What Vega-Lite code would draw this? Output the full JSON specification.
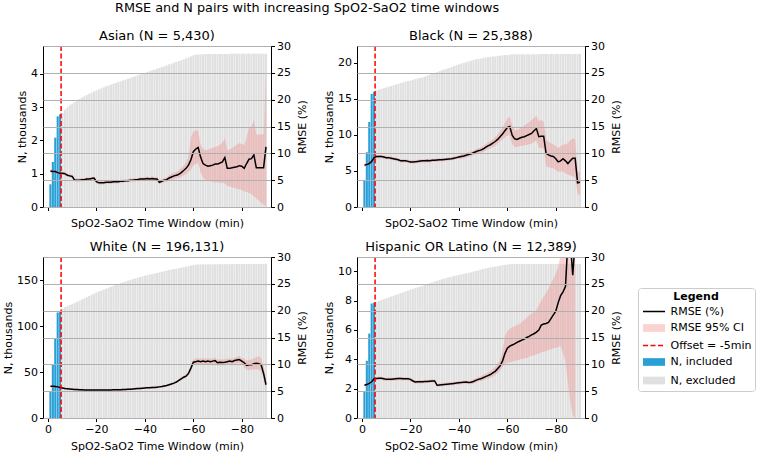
{
"$schema": "https://vega.github.io/schema/vega-lite/v6.json",
"padding": {"left": 2, "top": 1, "right": 1, "bottom": 1},
"title": {"text": "RMSE and N pairs with increasing SpO2-SaO2 time windows", "fontSize": 12.8, "fontWeight": "normal", "font": "DejaVu Sans", "anchor": "start", "frame": "group", "dx": 72, "offset": 15, "color": "black"},
"datasets": {
"off": [{"offset_min": 5.4}],
"d": [
{"g":"Asian","t":1,"n":0.68,"r":6.7,"lo":6.3,"hi":7.1,"s":"N, included"},
{"g":"Asian","t":2,"n":1.35,"r":6.6,"lo":6.3,"hi":6.9,"s":"N, included"},
{"g":"Asian","t":3,"n":2.08,"r":6.6,"lo":6.3,"hi":6.9,"s":"N, included"},
{"g":"Asian","t":4,"n":2.72,"r":6.4,"lo":6.1,"hi":6.7,"s":"N, included"},
{"g":"Asian","t":5,"n":2.78,"r":6.3,"lo":6.0,"hi":6.6,"s":"N, included"},
{"g":"Asian","t":6,"n":2.82,"r":6.3,"lo":6.0,"hi":6.6,"s":"N, excluded"},
{"g":"Asian","t":7,"n":2.92,"r":6.2,"lo":5.9,"hi":6.5,"s":"N, excluded"},
{"g":"Asian","t":8,"n":2.99,"r":5.9,"lo":5.6,"hi":6.2,"s":"N, excluded"},
{"g":"Asian","t":9,"n":3.05,"r":5.8,"lo":5.5,"hi":6.1,"s":"N, excluded"},
{"g":"Asian","t":10,"n":3.10,"r":5.7,"lo":5.4,"hi":6.0,"s":"N, excluded"},
{"g":"Asian","t":11,"n":3.15,"r":5.0,"lo":4.7,"hi":5.3,"s":"N, excluded"},
{"g":"Asian","t":12,"n":3.19,"r":5.0,"lo":4.7,"hi":5.3,"s":"N, excluded"},
{"g":"Asian","t":13,"n":3.24,"r":5.0,"lo":4.7,"hi":5.3,"s":"N, excluded"},
{"g":"Asian","t":14,"n":3.28,"r":5.1,"lo":4.8,"hi":5.4,"s":"N, excluded"},
{"g":"Asian","t":15,"n":3.32,"r":5.1,"lo":4.8,"hi":5.4,"s":"N, excluded"},
{"g":"Asian","t":16,"n":3.36,"r":5.2,"lo":4.9,"hi":5.5,"s":"N, excluded"},
{"g":"Asian","t":17,"n":3.40,"r":5.2,"lo":4.9,"hi":5.5,"s":"N, excluded"},
{"g":"Asian","t":18,"n":3.43,"r":5.3,"lo":5.0,"hi":5.6,"s":"N, excluded"},
{"g":"Asian","t":19,"n":3.47,"r":5.4,"lo":5.1,"hi":5.7,"s":"N, excluded"},
{"g":"Asian","t":20,"n":3.50,"r":4.7,"lo":4.4,"hi":5.0,"s":"N, excluded"},
{"g":"Asian","t":21,"n":3.53,"r":4.5,"lo":4.2,"hi":4.8,"s":"N, excluded"},
{"g":"Asian","t":22,"n":3.56,"r":4.5,"lo":4.2,"hi":4.8,"s":"N, excluded"},
{"g":"Asian","t":23,"n":3.59,"r":4.5,"lo":4.2,"hi":4.8,"s":"N, excluded"},
{"g":"Asian","t":24,"n":3.62,"r":4.6,"lo":4.3,"hi":4.9,"s":"N, excluded"},
{"g":"Asian","t":25,"n":3.64,"r":4.6,"lo":4.3,"hi":4.9,"s":"N, excluded"},
{"g":"Asian","t":26,"n":3.67,"r":4.6,"lo":4.3,"hi":4.9,"s":"N, excluded"},
{"g":"Asian","t":27,"n":3.70,"r":4.7,"lo":4.4,"hi":5.0,"s":"N, excluded"},
{"g":"Asian","t":28,"n":3.72,"r":4.7,"lo":4.4,"hi":5.0,"s":"N, excluded"},
{"g":"Asian","t":29,"n":3.75,"r":4.7,"lo":4.4,"hi":5.0,"s":"N, excluded"},
{"g":"Asian","t":30,"n":3.77,"r":4.8,"lo":4.5,"hi":5.1,"s":"N, excluded"},
{"g":"Asian","t":31,"n":3.80,"r":4.8,"lo":4.5,"hi":5.1,"s":"N, excluded"},
{"g":"Asian","t":32,"n":3.82,"r":4.9,"lo":4.6,"hi":5.2,"s":"N, excluded"},
{"g":"Asian","t":33,"n":3.85,"r":4.9,"lo":4.6,"hi":5.2,"s":"N, excluded"},
{"g":"Asian","t":34,"n":3.87,"r":5.0,"lo":4.7,"hi":5.3,"s":"N, excluded"},
{"g":"Asian","t":35,"n":3.90,"r":5.0,"lo":4.7,"hi":5.3,"s":"N, excluded"},
{"g":"Asian","t":36,"n":3.92,"r":5.1,"lo":4.8,"hi":5.4,"s":"N, excluded"},
{"g":"Asian","t":37,"n":3.95,"r":5.1,"lo":4.8,"hi":5.4,"s":"N, excluded"},
{"g":"Asian","t":38,"n":3.97,"r":5.2,"lo":4.9,"hi":5.5,"s":"N, excluded"},
{"g":"Asian","t":39,"n":4.00,"r":5.2,"lo":4.9,"hi":5.5,"s":"N, excluded"},
{"g":"Asian","t":40,"n":4.02,"r":5.2,"lo":4.9,"hi":5.6,"s":"N, excluded"},
{"g":"Asian","t":41,"n":4.05,"r":5.3,"lo":5.0,"hi":5.7,"s":"N, excluded"},
{"g":"Asian","t":42,"n":4.07,"r":5.2,"lo":4.9,"hi":5.6,"s":"N, excluded"},
{"g":"Asian","t":43,"n":4.10,"r":5.3,"lo":5.0,"hi":5.7,"s":"N, excluded"},
{"g":"Asian","t":44,"n":4.12,"r":5.2,"lo":4.9,"hi":5.6,"s":"N, excluded"},
{"g":"Asian","t":45,"n":4.15,"r":5.2,"lo":4.9,"hi":5.6,"s":"N, excluded"},
{"g":"Asian","t":46,"n":4.17,"r":4.6,"lo":4.3,"hi":5.0,"s":"N, excluded"},
{"g":"Asian","t":47,"n":4.20,"r":4.8,"lo":4.5,"hi":5.2,"s":"N, excluded"},
{"g":"Asian","t":48,"n":4.22,"r":5.0,"lo":4.6,"hi":5.4,"s":"N, excluded"},
{"g":"Asian","t":49,"n":4.25,"r":5.1,"lo":4.7,"hi":5.5,"s":"N, excluded"},
{"g":"Asian","t":50,"n":4.28,"r":5.4,"lo":4.9,"hi":5.9,"s":"N, excluded"},
{"g":"Asian","t":51,"n":4.30,"r":5.6,"lo":5.0,"hi":6.2,"s":"N, excluded"},
{"g":"Asian","t":52,"n":4.33,"r":5.8,"lo":5.2,"hi":6.4,"s":"N, excluded"},
{"g":"Asian","t":53,"n":4.35,"r":5.9,"lo":5.3,"hi":6.5,"s":"N, excluded"},
{"g":"Asian","t":54,"n":4.38,"r":6.1,"lo":5.4,"hi":6.8,"s":"N, excluded"},
{"g":"Asian","t":55,"n":4.40,"r":6.4,"lo":5.6,"hi":7.2,"s":"N, excluded"},
{"g":"Asian","t":56,"n":4.43,"r":6.8,"lo":5.9,"hi":7.7,"s":"N, excluded"},
{"g":"Asian","t":57,"n":4.46,"r":7.2,"lo":6.1,"hi":8.3,"s":"N, excluded"},
{"g":"Asian","t":58,"n":4.49,"r":7.8,"lo":6.5,"hi":9.5,"s":"N, excluded"},
{"g":"Asian","t":59,"n":4.52,"r":8.8,"lo":7.0,"hi":13.0,"s":"N, excluded"},
{"g":"Asian","t":60,"n":4.55,"r":10.3,"lo":7.8,"hi":14.0,"s":"N, excluded"},
{"g":"Asian","t":61,"n":4.57,"r":10.8,"lo":8.0,"hi":14.3,"s":"N, excluded"},
{"g":"Asian","t":62,"n":4.58,"r":11.1,"lo":8.2,"hi":14.2,"s":"N, excluded"},
{"g":"Asian","t":63,"n":4.58,"r":9.3,"lo":6.5,"hi":11.5,"s":"N, excluded"},
{"g":"Asian","t":64,"n":4.58,"r":8.1,"lo":5.5,"hi":10.8,"s":"N, excluded"},
{"g":"Asian","t":65,"n":4.59,"r":7.8,"lo":5.1,"hi":10.6,"s":"N, excluded"},
{"g":"Asian","t":66,"n":4.59,"r":7.6,"lo":4.9,"hi":10.6,"s":"N, excluded"},
{"g":"Asian","t":67,"n":4.59,"r":7.7,"lo":4.8,"hi":10.9,"s":"N, excluded"},
{"g":"Asian","t":68,"n":4.59,"r":7.8,"lo":4.7,"hi":11.0,"s":"N, excluded"},
{"g":"Asian","t":69,"n":4.59,"r":8.0,"lo":4.6,"hi":11.2,"s":"N, excluded"},
{"g":"Asian","t":70,"n":4.59,"r":8.0,"lo":4.6,"hi":11.3,"s":"N, excluded"},
{"g":"Asian","t":71,"n":4.59,"r":8.2,"lo":4.5,"hi":11.6,"s":"N, excluded"},
{"g":"Asian","t":72,"n":4.59,"r":8.4,"lo":4.5,"hi":12.0,"s":"N, excluded"},
{"g":"Asian","t":73,"n":4.59,"r":9.2,"lo":4.4,"hi":12.8,"s":"N, excluded"},
{"g":"Asian","t":74,"n":4.59,"r":7.2,"lo":3.9,"hi":10.6,"s":"N, excluded"},
{"g":"Asian","t":75,"n":4.60,"r":7.2,"lo":3.8,"hi":10.7,"s":"N, excluded"},
{"g":"Asian","t":76,"n":4.60,"r":7.3,"lo":3.7,"hi":11.0,"s":"N, excluded"},
{"g":"Asian","t":77,"n":4.60,"r":7.4,"lo":3.5,"hi":11.3,"s":"N, excluded"},
{"g":"Asian","t":78,"n":4.60,"r":7.5,"lo":3.4,"hi":11.6,"s":"N, excluded"},
{"g":"Asian","t":79,"n":4.60,"r":7.7,"lo":3.3,"hi":11.9,"s":"N, excluded"},
{"g":"Asian","t":80,"n":4.60,"r":7.6,"lo":3.2,"hi":11.8,"s":"N, excluded"},
{"g":"Asian","t":81,"n":4.60,"r":7.2,"lo":2.9,"hi":11.5,"s":"N, excluded"},
{"g":"Asian","t":82,"n":4.60,"r":8.1,"lo":2.8,"hi":13.0,"s":"N, excluded"},
{"g":"Asian","t":83,"n":4.60,"r":8.9,"lo":2.6,"hi":14.7,"s":"N, excluded"},
{"g":"Asian","t":84,"n":4.60,"r":9.0,"lo":2.4,"hi":15.0,"s":"N, excluded"},
{"g":"Asian","t":85,"n":4.60,"r":9.7,"lo":2.0,"hi":16.2,"s":"N, excluded"},
{"g":"Asian","t":86,"n":4.60,"r":7.3,"lo":1.6,"hi":13.5,"s":"N, excluded"},
{"g":"Asian","t":87,"n":4.60,"r":7.3,"lo":1.2,"hi":13.5,"s":"N, excluded"},
{"g":"Asian","t":88,"n":4.60,"r":7.3,"lo":0.8,"hi":13.5,"s":"N, excluded"},
{"g":"Asian","t":89,"n":4.60,"r":7.3,"lo":0.4,"hi":13.5,"s":"N, excluded"},
{"g":"Asian","t":90,"n":4.60,"r":11.2,"lo":0.1,"hi":25.0,"s":"N, excluded"},
{"g":"Black","t":1,"n":3.7,"r":7.8,"lo":7.45,"hi":8.15,"s":"N, included"},
{"g":"Black","t":2,"n":7.6,"r":7.9,"lo":7.55,"hi":8.25,"s":"N, included"},
{"g":"Black","t":3,"n":11.8,"r":8.1,"lo":7.75,"hi":8.45,"s":"N, included"},
{"g":"Black","t":4,"n":15.7,"r":8.5,"lo":8.15,"hi":8.85,"s":"N, included"},
{"g":"Black","t":5,"n":16.0,"r":9.2,"lo":8.85,"hi":9.55,"s":"N, included"},
{"g":"Black","t":6,"n":16.2,"r":9.4,"lo":9.1,"hi":9.7,"s":"N, excluded"},
{"g":"Black","t":7,"n":16.3,"r":9.4,"lo":9.1,"hi":9.7,"s":"N, excluded"},
{"g":"Black","t":8,"n":16.4,"r":9.4,"lo":9.1,"hi":9.7,"s":"N, excluded"},
{"g":"Black","t":9,"n":16.5,"r":9.3,"lo":9.0,"hi":9.6,"s":"N, excluded"},
{"g":"Black","t":10,"n":16.6,"r":9.2,"lo":8.9,"hi":9.5,"s":"N, excluded"},
{"g":"Black","t":11,"n":16.7,"r":9.2,"lo":8.9,"hi":9.5,"s":"N, excluded"},
{"g":"Black","t":12,"n":16.8,"r":9.1,"lo":8.8,"hi":9.4,"s":"N, excluded"},
{"g":"Black","t":13,"n":16.9,"r":9.0,"lo":8.7,"hi":9.3,"s":"N, excluded"},
{"g":"Black","t":14,"n":17.0,"r":8.9,"lo":8.6,"hi":9.2,"s":"N, excluded"},
{"g":"Black","t":15,"n":17.1,"r":8.8,"lo":8.5,"hi":9.1,"s":"N, excluded"},
{"g":"Black","t":16,"n":17.2,"r":8.6,"lo":8.3,"hi":8.9,"s":"N, excluded"},
{"g":"Black","t":17,"n":17.3,"r":8.6,"lo":8.3,"hi":8.9,"s":"N, excluded"},
{"g":"Black","t":18,"n":17.4,"r":8.6,"lo":8.3,"hi":8.9,"s":"N, excluded"},
{"g":"Black","t":19,"n":17.5,"r":8.5,"lo":8.2,"hi":8.8,"s":"N, excluded"},
{"g":"Black","t":20,"n":17.55,"r":8.4,"lo":8.1,"hi":8.7,"s":"N, excluded"},
{"g":"Black","t":21,"n":17.65,"r":8.4,"lo":8.1,"hi":8.7,"s":"N, excluded"},
{"g":"Black","t":22,"n":17.75,"r":8.45,"lo":8.15,"hi":8.75,"s":"N, excluded"},
{"g":"Black","t":23,"n":17.85,"r":8.5,"lo":8.2,"hi":8.8,"s":"N, excluded"},
{"g":"Black","t":24,"n":17.9,"r":8.55,"lo":8.25,"hi":8.85,"s":"N, excluded"},
{"g":"Black","t":25,"n":18.0,"r":8.6,"lo":8.3,"hi":8.9,"s":"N, excluded"},
{"g":"Black","t":26,"n":18.1,"r":8.6,"lo":8.3,"hi":8.9,"s":"N, excluded"},
{"g":"Black","t":27,"n":18.25,"r":8.65,"lo":8.35,"hi":8.95,"s":"N, excluded"},
{"g":"Black","t":28,"n":18.35,"r":8.6,"lo":8.3,"hi":8.9,"s":"N, excluded"},
{"g":"Black","t":29,"n":18.5,"r":8.7,"lo":8.4,"hi":9.0,"s":"N, excluded"},
{"g":"Black","t":30,"n":18.6,"r":8.7,"lo":8.4,"hi":9.0,"s":"N, excluded"},
{"g":"Black","t":31,"n":18.7,"r":8.75,"lo":8.45,"hi":9.05,"s":"N, excluded"},
{"g":"Black","t":32,"n":18.85,"r":8.8,"lo":8.5,"hi":9.1,"s":"N, excluded"},
{"g":"Black","t":33,"n":18.95,"r":8.8,"lo":8.5,"hi":9.1,"s":"N, excluded"},
{"g":"Black","t":34,"n":19.1,"r":8.85,"lo":8.55,"hi":9.15,"s":"N, excluded"},
{"g":"Black","t":35,"n":19.2,"r":8.9,"lo":8.6,"hi":9.2,"s":"N, excluded"},
{"g":"Black","t":36,"n":19.3,"r":8.95,"lo":8.65,"hi":9.25,"s":"N, excluded"},
{"g":"Black","t":37,"n":19.45,"r":9.0,"lo":8.7,"hi":9.3,"s":"N, excluded"},
{"g":"Black","t":38,"n":19.55,"r":9.1,"lo":8.8,"hi":9.4,"s":"N, excluded"},
{"g":"Black","t":39,"n":19.7,"r":9.2,"lo":8.9,"hi":9.5,"s":"N, excluded"},
{"g":"Black","t":40,"n":19.8,"r":9.3,"lo":9.0,"hi":9.6,"s":"N, excluded"},
{"g":"Black","t":41,"n":19.9,"r":9.4,"lo":8.95,"hi":9.85,"s":"N, excluded"},
{"g":"Black","t":42,"n":20.0,"r":9.5,"lo":9.05,"hi":9.95,"s":"N, excluded"},
{"g":"Black","t":43,"n":20.1,"r":9.65,"lo":9.2,"hi":10.1,"s":"N, excluded"},
{"g":"Black","t":44,"n":20.2,"r":9.8,"lo":9.35,"hi":10.25,"s":"N, excluded"},
{"g":"Black","t":45,"n":20.3,"r":9.9,"lo":9.45,"hi":10.35,"s":"N, excluded"},
{"g":"Black","t":46,"n":20.4,"r":10.1,"lo":9.65,"hi":10.55,"s":"N, excluded"},
{"g":"Black","t":47,"n":20.5,"r":10.3,"lo":9.85,"hi":10.75,"s":"N, excluded"},
{"g":"Black","t":48,"n":20.55,"r":10.5,"lo":10.05,"hi":10.95,"s":"N, excluded"},
{"g":"Black","t":49,"n":20.6,"r":10.6,"lo":10.1,"hi":11.1,"s":"N, excluded"},
{"g":"Black","t":50,"n":20.7,"r":10.8,"lo":10.25,"hi":11.35,"s":"N, excluded"},
{"g":"Black","t":51,"n":20.75,"r":11.1,"lo":10.5,"hi":11.7,"s":"N, excluded"},
{"g":"Black","t":52,"n":20.8,"r":11.4,"lo":10.8,"hi":12.0,"s":"N, excluded"},
{"g":"Black","t":53,"n":20.85,"r":11.6,"lo":10.9,"hi":12.3,"s":"N, excluded"},
{"g":"Black","t":54,"n":20.9,"r":11.9,"lo":11.2,"hi":12.6,"s":"N, excluded"},
{"g":"Black","t":55,"n":20.9,"r":12.2,"lo":11.4,"hi":13.0,"s":"N, excluded"},
{"g":"Black","t":56,"n":20.95,"r":12.6,"lo":11.8,"hi":13.5,"s":"N, excluded"},
{"g":"Black","t":57,"n":21.0,"r":13.1,"lo":12.2,"hi":14.1,"s":"N, excluded"},
{"g":"Black","t":58,"n":21.05,"r":13.6,"lo":12.6,"hi":14.8,"s":"N, excluded"},
{"g":"Black","t":59,"n":21.1,"r":14.2,"lo":13.0,"hi":15.6,"s":"N, excluded"},
{"g":"Black","t":60,"n":21.1,"r":14.8,"lo":13.3,"hi":16.5,"s":"N, excluded"},
{"g":"Black","t":61,"n":21.15,"r":15.0,"lo":13.3,"hi":16.8,"s":"N, excluded"},
{"g":"Black","t":62,"n":21.2,"r":13.4,"lo":11.8,"hi":15.3,"s":"N, excluded"},
{"g":"Black","t":63,"n":21.2,"r":12.7,"lo":11.2,"hi":14.3,"s":"N, excluded"},
{"g":"Black","t":64,"n":21.2,"r":12.6,"lo":11.2,"hi":14.3,"s":"N, excluded"},
{"g":"Black","t":65,"n":21.2,"r":12.8,"lo":11.3,"hi":14.6,"s":"N, excluded"},
{"g":"Black","t":66,"n":21.2,"r":13.0,"lo":11.4,"hi":14.9,"s":"N, excluded"},
{"g":"Black","t":67,"n":21.2,"r":13.1,"lo":11.5,"hi":15.2,"s":"N, excluded"},
{"g":"Black","t":68,"n":21.2,"r":13.3,"lo":11.6,"hi":15.5,"s":"N, excluded"},
{"g":"Black","t":69,"n":21.2,"r":13.5,"lo":11.7,"hi":15.8,"s":"N, excluded"},
{"g":"Black","t":70,"n":21.2,"r":13.7,"lo":11.8,"hi":16.2,"s":"N, excluded"},
{"g":"Black","t":71,"n":21.2,"r":14.2,"lo":12.1,"hi":16.6,"s":"N, excluded"},
{"g":"Black","t":72,"n":21.2,"r":14.6,"lo":12.4,"hi":17.0,"s":"N, excluded"},
{"g":"Black","t":73,"n":21.2,"r":13.1,"lo":11.0,"hi":16.0,"s":"N, excluded"},
{"g":"Black","t":74,"n":21.25,"r":13.2,"lo":11.0,"hi":16.2,"s":"N, excluded"},
{"g":"Black","t":75,"n":21.25,"r":13.2,"lo":10.9,"hi":15.9,"s":"N, excluded"},
{"g":"Black","t":76,"n":21.25,"r":10.0,"lo":7.6,"hi":12.6,"s":"N, excluded"},
{"g":"Black","t":77,"n":21.25,"r":9.7,"lo":7.4,"hi":12.2,"s":"N, excluded"},
{"g":"Black","t":78,"n":21.25,"r":9.5,"lo":7.3,"hi":11.9,"s":"N, excluded"},
{"g":"Black","t":79,"n":21.25,"r":9.4,"lo":7.2,"hi":11.7,"s":"N, excluded"},
{"g":"Black","t":80,"n":21.25,"r":9.0,"lo":6.9,"hi":11.3,"s":"N, excluded"},
{"g":"Black","t":81,"n":21.25,"r":8.4,"lo":6.5,"hi":11.0,"s":"N, excluded"},
{"g":"Black","t":82,"n":21.25,"r":8.6,"lo":6.6,"hi":11.3,"s":"N, excluded"},
{"g":"Black","t":83,"n":21.25,"r":9.0,"lo":6.6,"hi":11.6,"s":"N, excluded"},
{"g":"Black","t":84,"n":21.25,"r":8.6,"lo":6.3,"hi":11.7,"s":"N, excluded"},
{"g":"Black","t":85,"n":21.25,"r":8.1,"lo":6.0,"hi":11.9,"s":"N, excluded"},
{"g":"Black","t":86,"n":21.25,"r":8.6,"lo":5.9,"hi":12.4,"s":"N, excluded"},
{"g":"Black","t":87,"n":21.25,"r":9.1,"lo":5.7,"hi":12.8,"s":"N, excluded"},
{"g":"Black","t":88,"n":21.25,"r":9.1,"lo":5.6,"hi":12.6,"s":"N, excluded"},
{"g":"Black","t":89,"n":21.25,"r":4.5,"lo":2.4,"hi":6.5,"s":"N, excluded"},
{"g":"Black","t":90,"n":21.25,"r":4.6,"lo":2.2,"hi":6.6,"s":"N, excluded"},
{"g":"White","t":1,"n":28.4,"r":5.9,"lo":5.7,"hi":6.1,"s":"N, included"},
{"g":"White","t":2,"n":58.0,"r":5.9,"lo":5.7,"hi":6.1,"s":"N, included"},
{"g":"White","t":3,"n":86.0,"r":5.85,"lo":5.65,"hi":6.05,"s":"N, included"},
{"g":"White","t":4,"n":114.7,"r":5.8,"lo":5.6,"hi":6.0,"s":"N, included"},
{"g":"White","t":5,"n":115.8,"r":5.7,"lo":5.5,"hi":5.9,"s":"N, included"},
{"g":"White","t":6,"n":119.0,"r":5.6,"lo":5.4,"hi":5.8,"s":"N, excluded"},
{"g":"White","t":7,"n":120.5,"r":5.5,"lo":5.3,"hi":5.7,"s":"N, excluded"},
{"g":"White","t":8,"n":121.7,"r":5.45,"lo":5.25,"hi":5.65,"s":"N, excluded"},
{"g":"White","t":9,"n":122.8,"r":5.4,"lo":5.2,"hi":5.6,"s":"N, excluded"},
{"g":"White","t":10,"n":123.8,"r":5.35,"lo":5.15,"hi":5.55,"s":"N, excluded"},
{"g":"White","t":11,"n":125.0,"r":5.3,"lo":5.1,"hi":5.5,"s":"N, excluded"},
{"g":"White","t":12,"n":126.3,"r":5.3,"lo":5.1,"hi":5.5,"s":"N, excluded"},
{"g":"White","t":13,"n":127.5,"r":5.25,"lo":5.05,"hi":5.45,"s":"N, excluded"},
{"g":"White","t":14,"n":128.8,"r":5.25,"lo":5.05,"hi":5.45,"s":"N, excluded"},
{"g":"White","t":15,"n":130.0,"r":5.2,"lo":5.0,"hi":5.4,"s":"N, excluded"},
{"g":"White","t":16,"n":131.3,"r":5.2,"lo":5.0,"hi":5.4,"s":"N, excluded"},
{"g":"White","t":17,"n":132.6,"r":5.2,"lo":5.0,"hi":5.4,"s":"N, excluded"},
{"g":"White","t":18,"n":134.0,"r":5.2,"lo":5.0,"hi":5.4,"s":"N, excluded"},
{"g":"White","t":19,"n":135.2,"r":5.2,"lo":5.0,"hi":5.4,"s":"N, excluded"},
{"g":"White","t":20,"n":136.5,"r":5.2,"lo":5.0,"hi":5.4,"s":"N, excluded"},
{"g":"White","t":21,"n":137.5,"r":5.2,"lo":5.0,"hi":5.4,"s":"N, excluded"},
{"g":"White","t":22,"n":138.5,"r":5.2,"lo":5.0,"hi":5.4,"s":"N, excluded"},
{"g":"White","t":23,"n":139.6,"r":5.2,"lo":5.0,"hi":5.4,"s":"N, excluded"},
{"g":"White","t":24,"n":140.6,"r":5.2,"lo":5.0,"hi":5.4,"s":"N, excluded"},
{"g":"White","t":25,"n":141.6,"r":5.2,"lo":5.0,"hi":5.4,"s":"N, excluded"},
{"g":"White","t":26,"n":142.6,"r":5.2,"lo":5.0,"hi":5.4,"s":"N, excluded"},
{"g":"White","t":27,"n":143.6,"r":5.25,"lo":5.05,"hi":5.45,"s":"N, excluded"},
{"g":"White","t":28,"n":144.7,"r":5.25,"lo":5.05,"hi":5.45,"s":"N, excluded"},
{"g":"White","t":29,"n":145.7,"r":5.25,"lo":5.05,"hi":5.45,"s":"N, excluded"},
{"g":"White","t":30,"n":146.7,"r":5.25,"lo":5.05,"hi":5.45,"s":"N, excluded"},
{"g":"White","t":31,"n":147.6,"r":5.3,"lo":5.1,"hi":5.5,"s":"N, excluded"},
{"g":"White","t":32,"n":148.4,"r":5.3,"lo":5.1,"hi":5.5,"s":"N, excluded"},
{"g":"White","t":33,"n":149.3,"r":5.35,"lo":5.15,"hi":5.55,"s":"N, excluded"},
{"g":"White","t":34,"n":150.1,"r":5.35,"lo":5.15,"hi":5.55,"s":"N, excluded"},
{"g":"White","t":35,"n":151.0,"r":5.4,"lo":5.2,"hi":5.6,"s":"N, excluded"},
{"g":"White","t":36,"n":151.7,"r":5.45,"lo":5.25,"hi":5.65,"s":"N, excluded"},
{"g":"White","t":37,"n":152.5,"r":5.5,"lo":5.3,"hi":5.7,"s":"N, excluded"},
{"g":"White","t":38,"n":153.2,"r":5.5,"lo":5.3,"hi":5.7,"s":"N, excluded"},
{"g":"White","t":39,"n":154.0,"r":5.55,"lo":5.35,"hi":5.75,"s":"N, excluded"},
{"g":"White","t":40,"n":154.7,"r":5.6,"lo":5.4,"hi":5.8,"s":"N, excluded"},
{"g":"White","t":41,"n":155.3,"r":5.65,"lo":5.45,"hi":5.85,"s":"N, excluded"},
{"g":"White","t":42,"n":155.9,"r":5.65,"lo":5.45,"hi":5.85,"s":"N, excluded"},
{"g":"White","t":43,"n":156.5,"r":5.7,"lo":5.5,"hi":5.9,"s":"N, excluded"},
{"g":"White","t":44,"n":157.1,"r":5.7,"lo":5.5,"hi":5.9,"s":"N, excluded"},
{"g":"White","t":45,"n":157.6,"r":5.75,"lo":5.55,"hi":5.95,"s":"N, excluded"},
{"g":"White","t":46,"n":158.3,"r":5.8,"lo":5.6,"hi":6.0,"s":"N, excluded"},
{"g":"White","t":47,"n":158.9,"r":5.85,"lo":5.65,"hi":6.05,"s":"N, excluded"},
{"g":"White","t":48,"n":159.6,"r":5.95,"lo":5.75,"hi":6.15,"s":"N, excluded"},
{"g":"White","t":49,"n":160.2,"r":6.05,"lo":5.85,"hi":6.25,"s":"N, excluded"},
{"g":"White","t":50,"n":160.9,"r":6.2,"lo":6.0,"hi":6.4,"s":"N, excluded"},
{"g":"White","t":51,"n":161.4,"r":6.35,"lo":6.15,"hi":6.55,"s":"N, excluded"},
{"g":"White","t":52,"n":161.9,"r":6.5,"lo":6.3,"hi":6.7,"s":"N, excluded"},
{"g":"White","t":53,"n":162.4,"r":6.7,"lo":6.5,"hi":6.9,"s":"N, excluded"},
{"g":"White","t":54,"n":162.9,"r":7.0,"lo":6.75,"hi":7.25,"s":"N, excluded"},
{"g":"White","t":55,"n":163.4,"r":7.3,"lo":7.05,"hi":7.55,"s":"N, excluded"},
{"g":"White","t":56,"n":164.0,"r":7.6,"lo":7.3,"hi":7.9,"s":"N, excluded"},
{"g":"White","t":57,"n":164.6,"r":7.8,"lo":7.5,"hi":8.2,"s":"N, excluded"},
{"g":"White","t":58,"n":165.2,"r":8.3,"lo":7.9,"hi":8.7,"s":"N, excluded"},
{"g":"White","t":59,"n":165.8,"r":9.3,"lo":8.8,"hi":9.8,"s":"N, excluded"},
{"g":"White","t":60,"n":166.4,"r":10.4,"lo":9.9,"hi":10.9,"s":"N, excluded"},
{"g":"White","t":61,"n":166.7,"r":10.5,"lo":9.95,"hi":11.05,"s":"N, excluded"},
{"g":"White","t":62,"n":166.9,"r":10.6,"lo":10.05,"hi":11.15,"s":"N, excluded"},
{"g":"White","t":63,"n":167.0,"r":10.5,"lo":9.95,"hi":11.05,"s":"N, excluded"},
{"g":"White","t":64,"n":167.0,"r":10.6,"lo":10.05,"hi":11.15,"s":"N, excluded"},
{"g":"White","t":65,"n":167.0,"r":10.5,"lo":9.95,"hi":11.05,"s":"N, excluded"},
{"g":"White","t":66,"n":167.1,"r":10.6,"lo":10.05,"hi":11.15,"s":"N, excluded"},
{"g":"White","t":67,"n":167.1,"r":10.5,"lo":9.95,"hi":11.05,"s":"N, excluded"},
{"g":"White","t":68,"n":167.1,"r":10.6,"lo":10.05,"hi":11.15,"s":"N, excluded"},
{"g":"White","t":69,"n":167.1,"r":10.7,"lo":10.15,"hi":11.25,"s":"N, excluded"},
{"g":"White","t":70,"n":167.2,"r":10.3,"lo":9.75,"hi":10.85,"s":"N, excluded"},
{"g":"White","t":71,"n":167.2,"r":10.4,"lo":9.85,"hi":10.95,"s":"N, excluded"},
{"g":"White","t":72,"n":167.2,"r":10.35,"lo":9.8,"hi":10.9,"s":"N, excluded"},
{"g":"White","t":73,"n":167.2,"r":10.4,"lo":9.85,"hi":10.95,"s":"N, excluded"},
{"g":"White","t":74,"n":167.3,"r":10.5,"lo":9.95,"hi":11.05,"s":"N, excluded"},
{"g":"White","t":75,"n":167.3,"r":10.6,"lo":10.05,"hi":11.15,"s":"N, excluded"},
{"g":"White","t":76,"n":167.3,"r":10.5,"lo":9.95,"hi":11.05,"s":"N, excluded"},
{"g":"White","t":77,"n":167.3,"r":10.7,"lo":10.15,"hi":11.25,"s":"N, excluded"},
{"g":"White","t":78,"n":167.4,"r":10.8,"lo":10.2,"hi":11.4,"s":"N, excluded"},
{"g":"White","t":79,"n":167.4,"r":10.9,"lo":10.3,"hi":11.5,"s":"N, excluded"},
{"g":"White","t":80,"n":167.4,"r":10.6,"lo":10.0,"hi":11.2,"s":"N, excluded"},
{"g":"White","t":81,"n":167.4,"r":10.3,"lo":9.5,"hi":11.1,"s":"N, excluded"},
{"g":"White","t":82,"n":167.5,"r":9.8,"lo":9.0,"hi":10.7,"s":"N, excluded"},
{"g":"White","t":83,"n":167.5,"r":9.9,"lo":9.0,"hi":10.8,"s":"N, excluded"},
{"g":"White","t":84,"n":167.5,"r":9.9,"lo":9.0,"hi":10.9,"s":"N, excluded"},
{"g":"White","t":85,"n":167.5,"r":10.1,"lo":9.1,"hi":11.1,"s":"N, excluded"},
{"g":"White","t":86,"n":167.5,"r":10.2,"lo":9.1,"hi":11.3,"s":"N, excluded"},
{"g":"White","t":87,"n":167.5,"r":10.1,"lo":9.0,"hi":11.5,"s":"N, excluded"},
{"g":"White","t":88,"n":167.5,"r":9.9,"lo":8.7,"hi":11.2,"s":"N, excluded"},
{"g":"White","t":89,"n":167.5,"r":8.3,"lo":7.2,"hi":9.6,"s":"N, excluded"},
{"g":"White","t":90,"n":167.5,"r":6.2,"lo":4.9,"hi":7.4,"s":"N, excluded"},
{"g":"Hispanic","t":1,"n":1.8,"r":6.1,"lo":5.8,"hi":6.4,"s":"N, included"},
{"g":"Hispanic","t":2,"n":3.9,"r":6.25,"lo":5.95,"hi":6.55,"s":"N, included"},
{"g":"Hispanic","t":3,"n":5.75,"r":6.45,"lo":6.15,"hi":6.75,"s":"N, included"},
{"g":"Hispanic","t":4,"n":7.8,"r":6.75,"lo":6.45,"hi":7.05,"s":"N, included"},
{"g":"Hispanic","t":5,"n":7.86,"r":7.3,"lo":7.0,"hi":7.6,"s":"N, included"},
{"g":"Hispanic","t":6,"n":7.92,"r":7.35,"lo":7.05,"hi":7.65,"s":"N, excluded"},
{"g":"Hispanic","t":7,"n":7.98,"r":7.4,"lo":7.1,"hi":7.7,"s":"N, excluded"},
{"g":"Hispanic","t":8,"n":8.04,"r":7.4,"lo":7.1,"hi":7.7,"s":"N, excluded"},
{"g":"Hispanic","t":9,"n":8.1,"r":7.3,"lo":7.0,"hi":7.6,"s":"N, excluded"},
{"g":"Hispanic","t":10,"n":8.15,"r":7.2,"lo":6.9,"hi":7.5,"s":"N, excluded"},
{"g":"Hispanic","t":11,"n":8.21,"r":7.2,"lo":6.9,"hi":7.5,"s":"N, excluded"},
{"g":"Hispanic","t":12,"n":8.27,"r":7.2,"lo":6.9,"hi":7.5,"s":"N, excluded"},
{"g":"Hispanic","t":13,"n":8.33,"r":7.25,"lo":6.95,"hi":7.55,"s":"N, excluded"},
{"g":"Hispanic","t":14,"n":8.39,"r":7.3,"lo":7.0,"hi":7.6,"s":"N, excluded"},
{"g":"Hispanic","t":15,"n":8.45,"r":7.35,"lo":7.05,"hi":7.65,"s":"N, excluded"},
{"g":"Hispanic","t":16,"n":8.51,"r":7.35,"lo":7.05,"hi":7.65,"s":"N, excluded"},
{"g":"Hispanic","t":17,"n":8.57,"r":7.3,"lo":7.0,"hi":7.6,"s":"N, excluded"},
{"g":"Hispanic","t":18,"n":8.63,"r":7.3,"lo":7.0,"hi":7.6,"s":"N, excluded"},
{"g":"Hispanic","t":19,"n":8.69,"r":7.3,"lo":7.0,"hi":7.6,"s":"N, excluded"},
{"g":"Hispanic","t":20,"n":8.75,"r":7.2,"lo":6.9,"hi":7.5,"s":"N, excluded"},
{"g":"Hispanic","t":21,"n":8.8,"r":6.9,"lo":6.6,"hi":7.2,"s":"N, excluded"},
{"g":"Hispanic","t":22,"n":8.85,"r":6.7,"lo":6.4,"hi":7.0,"s":"N, excluded"},
{"g":"Hispanic","t":23,"n":8.9,"r":6.75,"lo":6.45,"hi":7.05,"s":"N, excluded"},
{"g":"Hispanic","t":24,"n":8.95,"r":6.75,"lo":6.45,"hi":7.05,"s":"N, excluded"},
{"g":"Hispanic","t":25,"n":9.0,"r":6.75,"lo":6.45,"hi":7.05,"s":"N, excluded"},
{"g":"Hispanic","t":26,"n":9.06,"r":6.8,"lo":6.5,"hi":7.1,"s":"N, excluded"},
{"g":"Hispanic","t":27,"n":9.12,"r":6.8,"lo":6.5,"hi":7.1,"s":"N, excluded"},
{"g":"Hispanic","t":28,"n":9.18,"r":6.85,"lo":6.55,"hi":7.15,"s":"N, excluded"},
{"g":"Hispanic","t":29,"n":9.24,"r":6.9,"lo":6.6,"hi":7.2,"s":"N, excluded"},
{"g":"Hispanic","t":30,"n":9.3,"r":6.9,"lo":6.6,"hi":7.2,"s":"N, excluded"},
{"g":"Hispanic","t":31,"n":9.35,"r":6.1,"lo":5.8,"hi":6.4,"s":"N, excluded"},
{"g":"Hispanic","t":32,"n":9.4,"r":6.15,"lo":5.85,"hi":6.45,"s":"N, excluded"},
{"g":"Hispanic","t":33,"n":9.45,"r":6.2,"lo":5.9,"hi":6.5,"s":"N, excluded"},
{"g":"Hispanic","t":34,"n":9.5,"r":6.25,"lo":5.95,"hi":6.55,"s":"N, excluded"},
{"g":"Hispanic","t":35,"n":9.55,"r":6.3,"lo":6.0,"hi":6.6,"s":"N, excluded"},
{"g":"Hispanic","t":36,"n":9.59,"r":6.35,"lo":6.05,"hi":6.65,"s":"N, excluded"},
{"g":"Hispanic","t":37,"n":9.63,"r":6.4,"lo":6.1,"hi":6.7,"s":"N, excluded"},
{"g":"Hispanic","t":38,"n":9.67,"r":6.45,"lo":6.15,"hi":6.75,"s":"N, excluded"},
{"g":"Hispanic","t":39,"n":9.71,"r":6.5,"lo":6.2,"hi":6.8,"s":"N, excluded"},
{"g":"Hispanic","t":40,"n":9.75,"r":6.55,"lo":6.25,"hi":6.85,"s":"N, excluded"},
{"g":"Hispanic","t":41,"n":9.79,"r":6.6,"lo":6.3,"hi":6.9,"s":"N, excluded"},
{"g":"Hispanic","t":42,"n":9.82,"r":6.65,"lo":6.35,"hi":6.95,"s":"N, excluded"},
{"g":"Hispanic","t":43,"n":9.86,"r":6.7,"lo":6.4,"hi":7.0,"s":"N, excluded"},
{"g":"Hispanic","t":44,"n":9.89,"r":6.6,"lo":6.3,"hi":6.9,"s":"N, excluded"},
{"g":"Hispanic","t":45,"n":9.93,"r":6.65,"lo":6.35,"hi":6.95,"s":"N, excluded"},
{"g":"Hispanic","t":46,"n":9.98,"r":6.8,"lo":6.4,"hi":7.2,"s":"N, excluded"},
{"g":"Hispanic","t":47,"n":10.02,"r":7.0,"lo":6.6,"hi":7.4,"s":"N, excluded"},
{"g":"Hispanic","t":48,"n":10.07,"r":7.2,"lo":6.8,"hi":7.6,"s":"N, excluded"},
{"g":"Hispanic","t":49,"n":10.11,"r":7.3,"lo":6.9,"hi":7.8,"s":"N, excluded"},
{"g":"Hispanic","t":50,"n":10.16,"r":7.5,"lo":7.0,"hi":8.0,"s":"N, excluded"},
{"g":"Hispanic","t":51,"n":10.19,"r":7.7,"lo":7.2,"hi":8.3,"s":"N, excluded"},
{"g":"Hispanic","t":52,"n":10.22,"r":7.9,"lo":7.3,"hi":8.5,"s":"N, excluded"},
{"g":"Hispanic","t":53,"n":10.26,"r":8.1,"lo":7.5,"hi":8.8,"s":"N, excluded"},
{"g":"Hispanic","t":54,"n":10.29,"r":8.4,"lo":7.7,"hi":9.1,"s":"N, excluded"},
{"g":"Hispanic","t":55,"n":10.32,"r":8.7,"lo":8.0,"hi":9.5,"s":"N, excluded"},
{"g":"Hispanic","t":56,"n":10.35,"r":9.2,"lo":8.4,"hi":10.1,"s":"N, excluded"},
{"g":"Hispanic","t":57,"n":10.38,"r":9.7,"lo":8.8,"hi":10.8,"s":"N, excluded"},
{"g":"Hispanic","t":58,"n":10.41,"r":10.6,"lo":9.5,"hi":12.6,"s":"N, excluded"},
{"g":"Hispanic","t":59,"n":10.43,"r":12.0,"lo":10.1,"hi":15.2,"s":"N, excluded"},
{"g":"Hispanic","t":60,"n":10.46,"r":13.0,"lo":10.3,"hi":16.2,"s":"N, excluded"},
{"g":"Hispanic","t":61,"n":10.48,"r":13.4,"lo":10.4,"hi":16.6,"s":"N, excluded"},
{"g":"Hispanic","t":62,"n":10.5,"r":13.6,"lo":10.5,"hi":16.9,"s":"N, excluded"},
{"g":"Hispanic","t":63,"n":10.5,"r":13.8,"lo":10.6,"hi":17.1,"s":"N, excluded"},
{"g":"Hispanic","t":64,"n":10.5,"r":14.1,"lo":10.7,"hi":17.3,"s":"N, excluded"},
{"g":"Hispanic","t":65,"n":10.5,"r":14.3,"lo":10.9,"hi":17.5,"s":"N, excluded"},
{"g":"Hispanic","t":66,"n":10.5,"r":14.5,"lo":11.0,"hi":17.9,"s":"N, excluded"},
{"g":"Hispanic","t":67,"n":10.5,"r":14.7,"lo":11.1,"hi":18.3,"s":"N, excluded"},
{"g":"Hispanic","t":68,"n":10.5,"r":15.0,"lo":11.2,"hi":18.7,"s":"N, excluded"},
{"g":"Hispanic","t":69,"n":10.5,"r":15.2,"lo":11.4,"hi":19.1,"s":"N, excluded"},
{"g":"Hispanic","t":70,"n":10.5,"r":15.5,"lo":11.6,"hi":19.5,"s":"N, excluded"},
{"g":"Hispanic","t":71,"n":10.5,"r":15.7,"lo":11.7,"hi":19.8,"s":"N, excluded"},
{"g":"Hispanic","t":72,"n":10.5,"r":16.0,"lo":11.9,"hi":20.1,"s":"N, excluded"},
{"g":"Hispanic","t":73,"n":10.5,"r":16.4,"lo":12.0,"hi":21.0,"s":"N, excluded"},
{"g":"Hispanic","t":74,"n":10.5,"r":17.3,"lo":12.2,"hi":21.9,"s":"N, excluded"},
{"g":"Hispanic","t":75,"n":10.5,"r":17.5,"lo":12.4,"hi":22.6,"s":"N, excluded"},
{"g":"Hispanic","t":76,"n":10.5,"r":17.6,"lo":12.5,"hi":23.3,"s":"N, excluded"},
{"g":"Hispanic","t":77,"n":10.5,"r":17.8,"lo":12.7,"hi":24.2,"s":"N, excluded"},
{"g":"Hispanic","t":78,"n":10.5,"r":18.5,"lo":12.8,"hi":25.0,"s":"N, excluded"},
{"g":"Hispanic","t":79,"n":10.5,"r":19.2,"lo":13.0,"hi":26.0,"s":"N, excluded"},
{"g":"Hispanic","t":80,"n":10.5,"r":19.9,"lo":13.1,"hi":26.9,"s":"N, excluded"},
{"g":"Hispanic","t":81,"n":10.5,"r":21.5,"lo":13.2,"hi":28.0,"s":"N, excluded"},
{"g":"Hispanic","t":82,"n":10.5,"r":22.8,"lo":13.4,"hi":30.5,"s":"N, excluded"},
{"g":"Hispanic","t":83,"n":10.5,"r":23.5,"lo":12.0,"hi":33.0,"s":"N, excluded"},
{"g":"Hispanic","t":84,"n":10.5,"r":24.5,"lo":10.5,"hi":36.0,"s":"N, excluded"},
{"g":"Hispanic","t":85,"n":10.5,"r":33.0,"lo":6.5,"hi":40.0,"s":"N, excluded"},
{"g":"Hispanic","t":86,"n":10.5,"r":33.0,"lo":3.0,"hi":40.0,"s":"N, excluded"},
{"g":"Hispanic","t":87,"n":10.5,"r":26.6,"lo":0.5,"hi":40.0,"s":"N, excluded"},
{"g":"Hispanic","t":88,"n":10.5,"r":33.0,"lo":0.0,"hi":40.0,"s":"N, excluded"},
{"g":"Hispanic","t":89,"n":10.5,"r":null,"lo":null,"hi":null,"s":"N, excluded"},
{"g":"Hispanic","t":90,"n":10.5,"r":null,"lo":null,"hi":null,"s":"N, excluded"}
]
},
"config": {
"font": "DejaVu Sans",
"view": {"stroke": "black", "strokeWidth": 1},
"axis": {"labelFont": "DejaVu Sans", "labelFontSize": 11, "labelColor": "black", "titleFont": "DejaVu Sans", "titleFontSize": 11, "titleFontWeight": "normal", "titleColor": "black", "tickColor": "black", "domainColor": "black", "grid": false, "tickSize": 3.5, "labelPadding": 2, "titlePadding": 6, "labelOverlap": false},
"axisLeft": {"titlePadding": 3},
"title": {"fontSize": 13, "fontWeight": "normal", "font": "DejaVu Sans", "offset": -3, "color": "black"},
"legend": {"orient": "none", "legendX": 595, "legendY": 242, "titleFont": "DejaVu Sans", "titleFontSize": 11, "titleFontWeight": "bold", "titleColor": "black", "titleAnchor": "middle", "titlePadding": 3, "labelFont": "DejaVu Sans", "labelFontSize": 11, "labelColor": "black", "strokeColor": "#cccccc", "fillColor": "white", "padding": 3, "cornerRadius": 3, "rowPadding": 3.5, "symbolSize": 121, "symbolOffset": 6.5, "labelOffset": 10}
},
"columns": 2,
"spacing": {"row": 50, "column": 86},
"bounds": "flush",
"concat": [
{"title": "Asian (N = 5,430)", "width": 228, "height": 161,
 "layer": [
  {"data": {"name": "d"}, "transform": [{"filter": "datum.g === 'Asian'"}], "mark": {"type": "bar", "width": 2.1},
   "encoding": {
    "x": {"field": "t", "type": "quantitative", "scale": {"domain": [0, 90], "nice": false, "zero": false}, "axis": {"values": [0,20,40,60,80], "labels": false, "title": "SpO2-SaO2 Time Window (min)"}},
    "y": {"field": "n", "type": "quantitative", "scale": {"domain": [0, 4.83], "nice": false}, "axis": {"orient": "left", "values": [0,1,2,3,4], "title": "N, thousands"}},
    "color": {"field": "s", "type": "nominal", "scale": {"domain": ["RMSE (%)", "RMSE 95% CI", "Offset = -5min", "N, included", "N, excluded"], "range": ["black", "#fad2d2", "red", "#2a9fd6", "#e0e0e0"]},
      "legend": {"title": "Legend", "encode": {"symbols": {"update": {
        "shape": {"signal": "datum.value === 'RMSE (%)' || datum.value === 'Offset = -5min' ? 'M-2,0H2' : 'M-2,-0.7H2V0.7H-2Z'"},
        "fill": {"signal": "datum.value === 'RMSE (%)' || datum.value === 'Offset = -5min' ? 'transparent' : scale('color', datum.value)"},
        "stroke": {"signal": "datum.value === 'RMSE (%)' ? 'black' : datum.value === 'Offset = -5min' ? 'red' : 'transparent'"},
        "strokeDash": {"signal": "datum.value === 'Offset = -5min' ? [5, 2.5] : [1, 0]"},
        "strokeWidth": {"value": 1.5},
        "opacity": {"value": 1},
        "fillOpacity": {"value": 1}
      }}}}}
   }},
  {"data": {"name": "d"}, "transform": [{"filter": "datum.g === 'Asian'"}],
   "layer": [
    {"mark": {"type": "area", "color": "#f08080", "opacity": 0.35, "clip": true},
     "encoding": {"x": {"field": "t", "type": "quantitative"}, "y": {"field": "lo", "type": "quantitative", "scale": {"domain": [0, 30], "nice": false}, "axis": {"orient": "right", "values": [0,5,10,15,20,25,30], "title": "RMSE (%)", "titleAngle": 270, "titleBaseline": "top", "grid": true, "gridColor": "#b0b0b0", "gridWidth": 1, "zindex": 1}}, "y2": {"field": "hi"}}},
    {"mark": {"type": "line", "color": "black", "strokeWidth": 1.5, "clip": true},
     "encoding": {"x": {"field": "t", "type": "quantitative"}, "y": {"field": "r", "type": "quantitative", "axis": {"orient": "right", "values": [0,5,10,15,20,25,30], "title": "RMSE (%)", "titleAngle": 270, "titleBaseline": "top", "grid": true, "gridColor": "#b0b0b0", "gridWidth": 1, "zindex": 1}}}}
   ]},
  {"data": {"name": "off"}, "mark": {"type": "rule", "color": "red", "strokeDash": [5, 2.5], "strokeWidth": 1.5},
   "encoding": {"x": {"field": "offset_min", "type": "quantitative"}}}
 ],
 "resolve": {"scale": {"y": "independent"}}
},
{"title": "Black (N = 25,388)", "width": 228, "height": 161,
 "layer": [
  {"data": {"name": "d"}, "transform": [{"filter": "datum.g === 'Black'"}], "mark": {"type": "bar", "width": 2.1},
   "encoding": {
    "x": {"field": "t", "type": "quantitative", "scale": {"domain": [0, 90], "nice": false, "zero": false}, "axis": {"values": [0,20,40,60,80], "labels": false, "title": "SpO2-SaO2 Time Window (min)"}},
    "y": {"field": "n", "type": "quantitative", "scale": {"domain": [0, 22.35], "nice": false}, "axis": {"orient": "left", "values": [0,5,10,15,20], "title": "N, thousands"}},
    "color": {"field": "s", "type": "nominal"}
   }},
  {"data": {"name": "d"}, "transform": [{"filter": "datum.g === 'Black'"}],
   "layer": [
    {"mark": {"type": "area", "color": "#f08080", "opacity": 0.35, "clip": true},
     "encoding": {"x": {"field": "t", "type": "quantitative"}, "y": {"field": "lo", "type": "quantitative", "scale": {"domain": [0, 30], "nice": false}, "axis": {"orient": "right", "values": [0,5,10,15,20,25,30], "title": "RMSE (%)", "titleAngle": 270, "titleBaseline": "top", "grid": true, "gridColor": "#b0b0b0", "gridWidth": 1, "zindex": 1}}, "y2": {"field": "hi"}}},
    {"mark": {"type": "line", "color": "black", "strokeWidth": 1.5, "clip": true},
     "encoding": {"x": {"field": "t", "type": "quantitative"}, "y": {"field": "r", "type": "quantitative", "axis": {"orient": "right", "values": [0,5,10,15,20,25,30], "title": "RMSE (%)", "titleAngle": 270, "titleBaseline": "top", "grid": true, "gridColor": "#b0b0b0", "gridWidth": 1, "zindex": 1}}}}
   ]},
  {"data": {"name": "off"}, "mark": {"type": "rule", "color": "red", "strokeDash": [5, 2.5], "strokeWidth": 1.5},
   "encoding": {"x": {"field": "offset_min", "type": "quantitative"}}}
 ],
 "resolve": {"scale": {"y": "independent"}}
},
{"title": "White (N = 196,131)", "width": 228, "height": 161,
 "layer": [
  {"data": {"name": "d"}, "transform": [{"filter": "datum.g === 'White'"}], "mark": {"type": "bar", "width": 2.1},
   "encoding": {
    "x": {"field": "t", "type": "quantitative", "scale": {"domain": [0, 90], "nice": false, "zero": false}, "axis": {"values": [0,20,40,60,80], "labelExpr": "datum.value == 0 ? '0' : '\u2212' + datum.value", "title": "SpO2-SaO2 Time Window (min)"}},
    "y": {"field": "n", "type": "quantitative", "scale": {"domain": [0, 175], "nice": false}, "axis": {"orient": "left", "values": [0,50,100,150], "title": "N, thousands"}},
    "color": {"field": "s", "type": "nominal"}
   }},
  {"data": {"name": "d"}, "transform": [{"filter": "datum.g === 'White'"}],
   "layer": [
    {"mark": {"type": "area", "color": "#f08080", "opacity": 0.35, "clip": true},
     "encoding": {"x": {"field": "t", "type": "quantitative"}, "y": {"field": "lo", "type": "quantitative", "scale": {"domain": [0, 30], "nice": false}, "axis": {"orient": "right", "values": [0,5,10,15,20,25,30], "title": "RMSE (%)", "titleAngle": 270, "titleBaseline": "top", "grid": true, "gridColor": "#b0b0b0", "gridWidth": 1, "zindex": 1}}, "y2": {"field": "hi"}}},
    {"mark": {"type": "line", "color": "black", "strokeWidth": 1.5, "clip": true},
     "encoding": {"x": {"field": "t", "type": "quantitative"}, "y": {"field": "r", "type": "quantitative", "axis": {"orient": "right", "values": [0,5,10,15,20,25,30], "title": "RMSE (%)", "titleAngle": 270, "titleBaseline": "top", "grid": true, "gridColor": "#b0b0b0", "gridWidth": 1, "zindex": 1}}}}
   ]},
  {"data": {"name": "off"}, "mark": {"type": "rule", "color": "red", "strokeDash": [5, 2.5], "strokeWidth": 1.5},
   "encoding": {"x": {"field": "offset_min", "type": "quantitative"}}}
 ],
 "resolve": {"scale": {"y": "independent"}}
},
{"title": "Hispanic OR Latino (N = 12,389)", "width": 228, "height": 161,
 "layer": [
  {"data": {"name": "d"}, "transform": [{"filter": "datum.g === 'Hispanic'"}], "mark": {"type": "bar", "width": 2.1},
   "encoding": {
    "x": {"field": "t", "type": "quantitative", "scale": {"domain": [0, 90], "nice": false, "zero": false}, "axis": {"values": [0,20,40,60,80], "labelExpr": "datum.value == 0 ? '0' : '\u2212' + datum.value", "title": "SpO2-SaO2 Time Window (min)"}},
    "y": {"field": "n", "type": "quantitative", "scale": {"domain": [0, 10.97], "nice": false}, "axis": {"orient": "left", "values": [0,2,4,6,8,10], "title": "N, thousands"}},
    "color": {"field": "s", "type": "nominal"}
   }},
  {"data": {"name": "d"}, "transform": [{"filter": "datum.g === 'Hispanic'"}],
   "layer": [
    {"mark": {"type": "area", "color": "#f08080", "opacity": 0.35, "clip": true},
     "encoding": {"x": {"field": "t", "type": "quantitative"}, "y": {"field": "lo", "type": "quantitative", "scale": {"domain": [0, 30], "nice": false}, "axis": {"orient": "right", "values": [0,5,10,15,20,25,30], "title": "RMSE (%)", "titleAngle": 270, "titleBaseline": "top", "grid": true, "gridColor": "#b0b0b0", "gridWidth": 1, "zindex": 1}}, "y2": {"field": "hi"}}},
    {"mark": {"type": "line", "color": "black", "strokeWidth": 1.5, "clip": true},
     "encoding": {"x": {"field": "t", "type": "quantitative"}, "y": {"field": "r", "type": "quantitative", "axis": {"orient": "right", "values": [0,5,10,15,20,25,30], "title": "RMSE (%)", "titleAngle": 270, "titleBaseline": "top", "grid": true, "gridColor": "#b0b0b0", "gridWidth": 1, "zindex": 1}}}}
   ]},
  {"data": {"name": "off"}, "mark": {"type": "rule", "color": "red", "strokeDash": [5, 2.5], "strokeWidth": 1.5},
   "encoding": {"x": {"field": "offset_min", "type": "quantitative"}}}
 ],
 "resolve": {"scale": {"y": "independent"}}
}
]
}
